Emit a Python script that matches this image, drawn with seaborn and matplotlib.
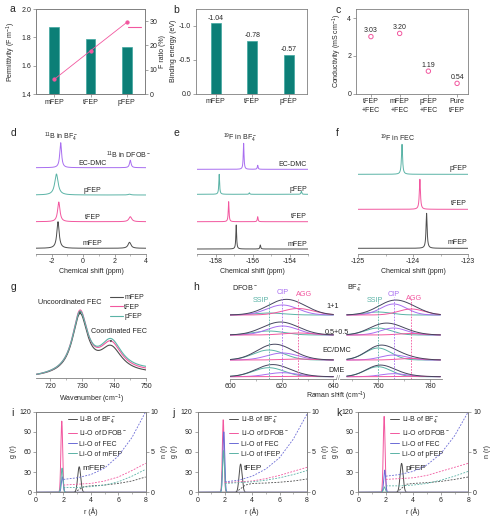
import numpy as np
import pandas as pd
import matplotlib
matplotlib.use("Agg")
import matplotlib.pyplot as plt
import seaborn as sns
from matplotlib.lines import Line2D
from matplotlib.ticker import MultipleLocator

# ---------------- data ----------------
a_cats = ["mFEP", "tFEP", "pFEP"]
a_permittivity = [1.87, 1.79, 1.73]
a_f_ratio = [6.0, 17.8, 29.5]

b_cats = ["mFEP", "tFEP", "pFEP"]
b_binding = [-1.04, -0.78, -0.57]

c_cats = ["tFEP\n+FEC", "mFEP\n+FEC", "pFEP\n+FEC", "Pure\ntFEP"]
c_conductivity = [3.03, 3.20, 1.19, 0.54]

nmr_series = ["EC-DMC", "pFEP", "tFEP", "mFEP"]
d_offset = [85.8, 58.5, 31.8, 5.2]
d_peak_pos = [[-1.43, 3.00], [-1.70, 2.95], [-1.55, 3.00], [-1.60, 2.95]]
d_peak_height = [[25.0, 7.5], [21.0, 0.8], [19.7, 5.0], [26.6, 6.0]]
d_peak_hwhm = [[0.07, 0.06], [0.13, 0.10], [0.09, 0.11], [0.09, 0.11]]

e_offset = [84.2, 59.2, 31.8, 4.5]
e_peak_pos = [[-156.48, -155.72], [-157.80, -156.17, -153.36],
              [-157.29, -155.72], [-156.88, -155.58]]
e_peak_height = [[26.0, 4.0], [20.0, 1.5, 3.0], [20.0, 5.0], [24.0, 4.0]]
e_peak_hwhm = 0.025

f_series = ["pFEP", "tFEP", "mFEP"]
f_offset = [79.2, 44.2, 5.2]
f_peak_pos = [-124.20, -123.875, -123.753]
f_peak_height = [30.0, 30.0, 35.0]
f_peak_hwhm = 0.012

g_series = ["mFEP", "tFEP", "pFEP"]
g_peak_pos = [729.3, 739.0]
g_peak_hwhm = [2.9, 4.2]
g_uncoord_height = [59.0, 61.3, 59.3]
g_coord_height = [25.3, 28.5, 30.0]
g_base_start = [0.5, 0.5, 0.5]
g_base_end = [4.0, 5.5, 7.0]

h_groups = ["1+1", "0.5+0.5", "EC/DMC", "DME"]
h_species = ["SSIP", "CIP", "AGG"]
h_offset = [63.5, 43.5, 18.5, 1.8]
h_dfob_pos = [615.0, 620.3, 626.3]
h_dfob_height = [[2.0, 10.0, 6.5], [4.0, 9.0, 2.0], [10.0, 7.0, 1.0], [9.0, 4.0, 0.5]]
h_dfob_sigma = 6.0
h_bf4_pos = [760.0, 766.0, 772.8]
h_bf4_height = [[3.0, 11.0, 6.0], [7.0, 7.0, 1.5], [12.0, 5.0, 1.5], [10.0, 3.0, 0.5]]
h_bf4_sigma = 5.0

rdf_solvents = ["mFEP", "tFEP", "pFEP"]
rdf_pairs = ["Li-B of BF$_4^-$", "Li-O of DFOB$^-$", "Li-O of FEC", "Li-O of "]
rdf_peak_pos = [3.15, 1.88, 1.92, 1.90]
rdf_peak_sigma = [0.11, 0.065, 0.07, 0.07]
rdf_peak_height = [[38, 106, 23, 36], [42, 108, 90, 62], [43, 113, 33, 8]]
n_r = [2, 3, 4, 5, 6, 7, 8]
n_r_bf4 = [2.8, 3.5, 4, 5, 6, 7, 8]
n_bf4 = [[0.0, 0.7, 0.8, 0.9, 1.1, 1.4, 1.9],
         [0.0, 0.9, 1.1, 1.15, 1.25, 1.4, 1.65],
         [0.0, 1.0, 1.1, 1.2, 1.35, 1.6, 1.9]]
n_dfob = [[0.9, 1.0, 1.1, 1.4, 1.9, 2.7, 3.6],
          [1.2, 1.3, 1.4, 1.7, 2.1, 2.6, 3.1],
          [1.6, 1.7, 1.8, 2.1, 2.6, 3.1, 3.6]]
n_fec = [[1.6, 1.8, 2.2, 3.0, 4.5, 6.8, 10.0],
         [1.3, 1.5, 2.0, 2.9, 4.3, 6.6, 9.7],
         [2.0, 2.2, 2.6, 3.4, 4.8, 7.0, 10.0]]
n_solv = [[0.6, 0.6, 0.7, 0.9, 1.3, 2.0, 2.85],
          [1.1, 1.2, 1.3, 1.5, 1.8, 2.2, 2.7],
          [0.8, 0.8, 0.9, 1.1, 1.5, 2.0, 2.6]]

# ---------------- style ----------------
sns.set_style("ticks")
plt.rcParams["font.family"] = ["Liberation Sans", "DejaVu Sans"]
plt.rcParams.update({
    "mathtext.fontset": "custom",
    "mathtext.rm": "Liberation Sans",
    "mathtext.it": "Liberation Sans:italic",
    "mathtext.bf": "Liberation Sans:bold",
    "mathtext.default": "regular",
    "axes.unicode_minus": False,
    "font.size": 5,
    "axes.linewidth": 0.6,
    "xtick.major.size": 2, "ytick.major.size": 2,
    "xtick.minor.size": 1.2, "ytick.minor.size": 1.2,
    "xtick.major.width": 0.5, "ytick.major.width": 0.5,
    "xtick.minor.width": 0.4, "ytick.minor.width": 0.4,
    "xtick.major.pad": 1.5, "ytick.major.pad": 1.5,
    "xtick.labelsize": 5, "ytick.labelsize": 5,
    "axes.labelsize": 5, "axes.labelpad": 2,
    "xtick.direction": "out", "ytick.direction": "out",
})

BAR = "#0c7f77"
BAR_EDGE = "#3fa79f"
PINK = "#f2579f"
PURPLE = "#a86ef0"
TEAL = "#5ab3a6"
GRAY = "#4d4d4d"
BLUE = "#6b6bd6"
ENV = "#45455e"
AXC = "#808080"
nmr_colors = [PURPLE, TEAL, PINK, GRAY]
g_colors = [GRAY, PINK, TEAL]
h_colors = [TEAL, PURPLE, PINK]
rdf_colors = [GRAY, PINK, BLUE, TEAL]

W, H = 490, 517
fig = plt.figure(figsize=(W / 100, H / 100), dpi=100)


def add_ax(x0, y0, x1, y1):
    return fig.add_axes([x0 / W, 1 - y1 / H, (x1 - x0) / W, (y1 - y0) / H])


def fig_text(x, y, s, **kw):
    fig.text(x / W, 1 - y / H, s, **kw)


def lor(x, x0, hw):
    return 1.0 / (1.0 + ((x - x0) / hw) ** 2)


def gau(x, x0, s):
    return np.exp(-0.5 * ((x - x0) / s) ** 2)


def framed(ax):
    for s in ax.spines.values():
        s.set_color(AXC)
        s.set_linewidth(0.6)
    ax.tick_params(which="both", color=AXC)


def bottom_only(ax):
    for s in ["left", "right", "top"]:
        ax.spines[s].set_visible(False)
    ax.spines["bottom"].set_color(AXC)
    ax.spines["bottom"].set_linewidth(0.6)
    ax.set_yticks([])
    ax.tick_params(which="both", color=AXC)
    ax.patch.set_visible(False)


# ---------------- panel letters ----------------
for lab, x, y in [("a", 12, 9), ("b", 176, 10), ("c", 338, 10),
                  ("d", 13, 133), ("e", 176, 133), ("f", 337, 133),
                  ("g", 13, 287), ("h", 196, 287),
                  ("i", 12, 413), ("j", 173, 413), ("k", 339, 413)]:
    fig_text(x, y, lab, fontsize=7.5, ha="center", va="center")

# ---------------- a ----------------
axA = add_ax(36, 9, 145, 94)
sns.barplot(x=a_cats, y=a_permittivity, ax=axA, color=BAR, edgecolor=BAR_EDGE,
            linewidth=0.5, width=0.27, saturation=1)
axA.set_ylim(1.4, 2.0)
axA.set_yticks([1.4, 1.6, 1.8, 2.0])
axA.set_xlim(-0.5, 2.5)
axA.set_xlabel("")
axA.set_ylabel("Permittivity (F m$^{-1}$)")
framed(axA)
axA2 = axA.twinx()
sns.lineplot(x=[0, 1, 2], y=a_f_ratio, ax=axA2, color=PINK, lw=0.6, marker="o",
             markersize=2.3, markeredgecolor=PINK, legend=False)
axA2.set_ylim(0, 35)
axA2.set_yticks([0, 10, 20, 30])
axA2.set_ylabel("F ratio (%)", labelpad=1)
framed(axA2)
axA2.legend(handles=[Line2D([], [], color=PINK, lw=0.8)], labels=[""], frameon=False,
            loc="center", bbox_to_anchor=(0.90, 0.776), handlelength=1.9,
            handletextpad=0, borderpad=0, fontsize=5)

# ---------------- b ----------------
axB = add_ax(196, 9, 307, 93.5)
sns.barplot(x=b_cats, y=b_binding, ax=axB, color=BAR, edgecolor=BAR_EDGE,
            linewidth=0.5, width=0.27, saturation=1)
axB.set_ylim(0, -1.25)
axB.set_yticks([0.0, -0.5, -1.0])
axB.set_yticklabels(["0.0", "-0.5", "-1.0"])
axB.set_xlim(-0.54, 2.5)
axB.set_xlabel("")
axB.set_ylabel("Binding energy (eV)", labelpad=1.5)
for i, v in enumerate(b_binding):
    axB.text(i, v - 0.025, f"{v:.2f}", ha="center", va="bottom", fontsize=5)
framed(axB)

# ---------------- c ----------------
axC = add_ax(356, 9, 468, 93.5)
sns.scatterplot(x=list(range(len(c_cats))), y=c_conductivity, ax=axC, marker="o",
                s=10, facecolors="none", edgecolor=PINK, linewidth=0.7, legend=False)
axC.set_xlim(-0.52, 3.38)
axC.set_ylim(0, 4.5)
axC.set_yticks([0, 2, 4])
axC.set_xticks(range(len(c_cats)))
axC.set_xticklabels(c_cats, linespacing=1.35)
axC.set_ylabel("Conductivity (mS cm$^{-1}$)")
for i, v in enumerate(c_conductivity):
    axC.text(i, v + 0.13, f"{v:.2f}", ha="center", va="bottom", fontsize=5)
framed(axC)

# ---------------- d ----------------
axD = add_ax(36, 135, 146, 253.5)
xd = np.linspace(-3, 4, 4000)
for off, pos, hts, hws, col in zip(d_offset, d_peak_pos, d_peak_height, d_peak_hwhm, nmr_colors):
    y = off + sum(h * lor(xd, p, w) for p, h, w in zip(pos, hts, hws))
    axD.plot(xd, y, color=col, lw=0.7)
axD.set_xlim(-3, 4)
axD.set_ylim(0, 118.5)
axD.xaxis.set_major_locator(MultipleLocator(2))
axD.xaxis.set_minor_locator(MultipleLocator(1))
bottom_only(axD)
axD.set_xlabel("Chemical shift (ppm)")
axD.text(-1.4, 116.5, "$^{11}$B in BF$_4^-$", ha="center", va="center", fontsize=5)
axD.text(2.86, 98.5, "$^{11}$B in DFOB$^-$", ha="center", va="center", fontsize=5)
for name, off in zip(nmr_series, d_offset):
    axD.text(0.6, off + 1.0, name, ha="center", va="bottom", fontsize=5)

# ---------------- e ----------------
axE = add_ax(197, 135, 308, 253.5)
xe = np.linspace(-159, -153, 8000)
for off, pos, hts, col in zip(e_offset, e_peak_pos, e_peak_height, nmr_colors):
    y = off + sum(h * lor(xe, p, e_peak_hwhm) for p, h in zip(pos, hts))
    axE.plot(xe, y, color=col, lw=0.7)
axE.set_xlim(-159, -153)
axE.set_ylim(0, 118.5)
axE.xaxis.set_major_locator(MultipleLocator(2))
axE.xaxis.set_minor_locator(MultipleLocator(1))
bottom_only(axE)
axE.set_xlabel("Chemical shift (ppm)")
axE.text(-156.7, 115.5, "$^{19}$F in BF$_4^-$", ha="center", va="center", fontsize=5)
for name, off in zip(nmr_series, e_offset):
    axE.text(-153.05, off + 1.5, name, ha="right", va="bottom", fontsize=5)

# ---------------- f ----------------
axF = add_ax(358, 135, 468, 253.5)
xf = np.linspace(-125, -123, 8000)
for off, p, h, col in zip(f_offset, f_peak_pos, f_peak_height, [TEAL, PINK, GRAY]):
    axF.plot(xf, off + h * lor(xf, p, f_peak_hwhm), color=col, lw=0.7)
axF.set_xlim(-125, -123)
axF.set_ylim(0, 118.5)
axF.xaxis.set_major_locator(MultipleLocator(1))
axF.xaxis.set_minor_locator(MultipleLocator(0.5))
bottom_only(axF)
axF.set_xlabel("Chemical shift (ppm)")
axF.text(-124.29, 115.5, "$^{19}$F in FEC", ha="center", va="center", fontsize=5)
for name, off in zip(f_series, f_offset):
    axF.text(-123.02, off + 2.0, name, ha="right", va="bottom", fontsize=5)

# ---------------- g ----------------
axG = add_ax(36, 292, 146, 378.3)
xg = np.linspace(715.5, 750, 1500)
for name, h1, h2, b0, b1, col in zip(g_series, g_uncoord_height, g_coord_height,
                                     g_base_start, g_base_end, g_colors):
    y = (h1 * lor(xg, g_peak_pos[0], g_peak_hwhm[0]) + h2 * lor(xg, g_peak_pos[1], g_peak_hwhm[1])
         + b0 + (b1 - b0) * (xg - xg[0]) / (xg[-1] - xg[0]))
    sns.lineplot(x=xg, y=y, ax=axG, color=col, lw=0.8, label=name, estimator=None, sort=False)
axG.set_xlim(715.5, 750)
axG.set_ylim(0, 86.3)
axG.xaxis.set_major_locator(MultipleLocator(10))
axG.xaxis.set_minor_locator(MultipleLocator(5))
bottom_only(axG)
axG.set_xlabel("Wavenumber (cm$^{-1}$)")
axG.legend(loc="upper right", bbox_to_anchor=(1.0, 1.0), frameon=False, fontsize=5,
           handlelength=1.9, handletextpad=0.2, labelspacing=0.35, borderpad=0.1,
           borderaxespad=0.2)
axG.text(726.0, 75.3, "Uncoordinated FEC", ha="center", va="center", fontsize=5.2)
axG.text(741.6, 46.6, "Coordinated FEC", ha="center", va="center", fontsize=5.2)
for xp, y0, y1 in [(g_peak_pos[0], 61, 70), (g_peak_pos[1], 33, 41)]:
    axG.annotate("", xy=(xp, y0), xytext=(xp, y1),
                 arrowprops=dict(arrowstyle="-|>", lw=0.4, color="#444", mutation_scale=2.5))

# ---------------- h ----------------
axH1 = add_ax(230, 285, 336, 378.5)
axH2 = add_ax(340, 285, 442, 378.5)
for ax, xr, pos_list, hts_list, sig, xl in [
        (axH1, (600, 640), h_dfob_pos, h_dfob_height, h_dfob_sigma, (600, 641)),
        (axH2, (748, 784), h_bf4_pos, h_bf4_height, h_bf4_sigma, (745.4, 784.6))]:
    xh = np.linspace(xr[0], xr[1], 600)
    for off, hts in zip(h_offset, hts_list):
        comps = [h * gau(xh, p, sig) for p, h in zip(pos_list, hts)]
        for comp, col in zip(comps, h_colors):
            ax.plot(xh, off + comp, color=col, lw=0.7)
        ax.plot(xh, off + sum(comps), color=ENV, lw=0.7)
    for p, col, top in zip(pos_list, h_colors, [77, 82, 80]):
        ax.plot([p, p], [0, top], color=col, lw=0.6, ls=(0, (2, 1.5)))
    ax.set_xlim(*xl)
    ax.set_ylim(0, 93.5)
    bottom_only(ax)
axH1.xaxis.set_major_locator(MultipleLocator(20))
axH1.xaxis.set_minor_locator(MultipleLocator(10))
axH2.set_xticks([760, 780])
axH2.set_xticks([750, 770], minor=True)
for sp, p, lab_y, col in zip(h_species, h_dfob_pos, [78.5, 85.5, 83.5], h_colors):
    axH1.text(p - (3.0 if sp == "SSIP" else 0) + (2.5 if sp == "AGG" else 0), lab_y, sp,
              ha="center", va="center", fontsize=5.2, color=col)
for sp, p, lab_y, col in zip(h_species, h_bf4_pos, [78.5, 84.5, 79.5], h_colors):
    axH2.text(p - (1.0 if sp == "SSIP" else 0) + (1.0 if sp == "AGG" else 0), lab_y, sp,
              ha="center", va="center", fontsize=5.2, color=col)
axH1.text(600.8, 91.5, "DFOB$^-$", ha="left", va="center", fontsize=5.2)
axH2.text(748.0, 90.8, "BF$_4^-$", ha="left", va="center", fontsize=5.2)
for grp, gy, gpx in zip(h_groups, [71.8, 45.5, 27.5, 7.5], [333, 336.7, 336.7, 336]):
    fig_text(gpx, 378.5 - gy, grp, ha="center", va="center", fontsize=5.2, zorder=10)
fig_text(338, 378.5, "//", fontsize=5, ha="center", va="center", color=AXC)
fig_text(336, 396, "Raman shift (cm$^{-1}$)", fontsize=5, ha="center", va="center")

# ---------------- i, j, k ----------------
boxes = [(36, 411.7, 145.7, 492.3), (197.5, 411.7, 307, 492.3), (358.3, 411.7, 468.3, 492.3)]
rg = np.linspace(0, 8, 2000)
for k, (box, solv) in enumerate(zip(boxes, rdf_solvents)):
    ax = add_ax(*box)
    labels = rdf_pairs[:3] + [rdf_pairs[3] + solv]
    for p, s, h, col, lab in zip(rdf_peak_pos, rdf_peak_sigma, rdf_peak_height[k], rdf_colors, labels):
        sns.lineplot(x=rg, y=h * gau(rg, p, s), ax=ax, color=col, lw=0.7, label=lab,
                     estimator=None, sort=False)
    ax.set_xlim(0, 8)
    ax.set_ylim(0, 120)
    ax.set_yticks([0, 30, 60, 90, 120])
    ax.xaxis.set_major_locator(MultipleLocator(2))
    ax.xaxis.set_minor_locator(MultipleLocator(1))
    ax.set_xlabel("r (Å)")
    ax.set_ylabel("g (r)")
    ax.legend(loc="upper left", bbox_to_anchor=(0.25, 1.02), frameon=False, fontsize=5,
              handlelength=1.3, handletextpad=0.4, labelspacing=0.45, borderpad=0.1)
    ax.text(3.4, 36, solv, ha="left", va="center", fontsize=6)
    framed(ax)
    ax2 = ax.twinx()
    dash = (0, (2.2, 1.6))
    ax2.plot(n_r_bf4, n_bf4[k], color=GRAY, lw=0.6, ls=dash)
    ax2.plot(n_r, n_dfob[k], color=PINK, lw=0.6, ls=dash)
    ax2.plot(n_r, n_fec[k], color=BLUE, lw=0.6, ls=dash)
    ax2.plot(n_r, n_solv[k], color=TEAL, lw=0.6, ls=dash)
    ax2.set_ylim(0, 10)
    ax2.set_yticks([0, 5, 10])
    ax2.set_ylabel("n (r)")
    framed(ax2)

fig.savefig("out.png", dpi=100)
